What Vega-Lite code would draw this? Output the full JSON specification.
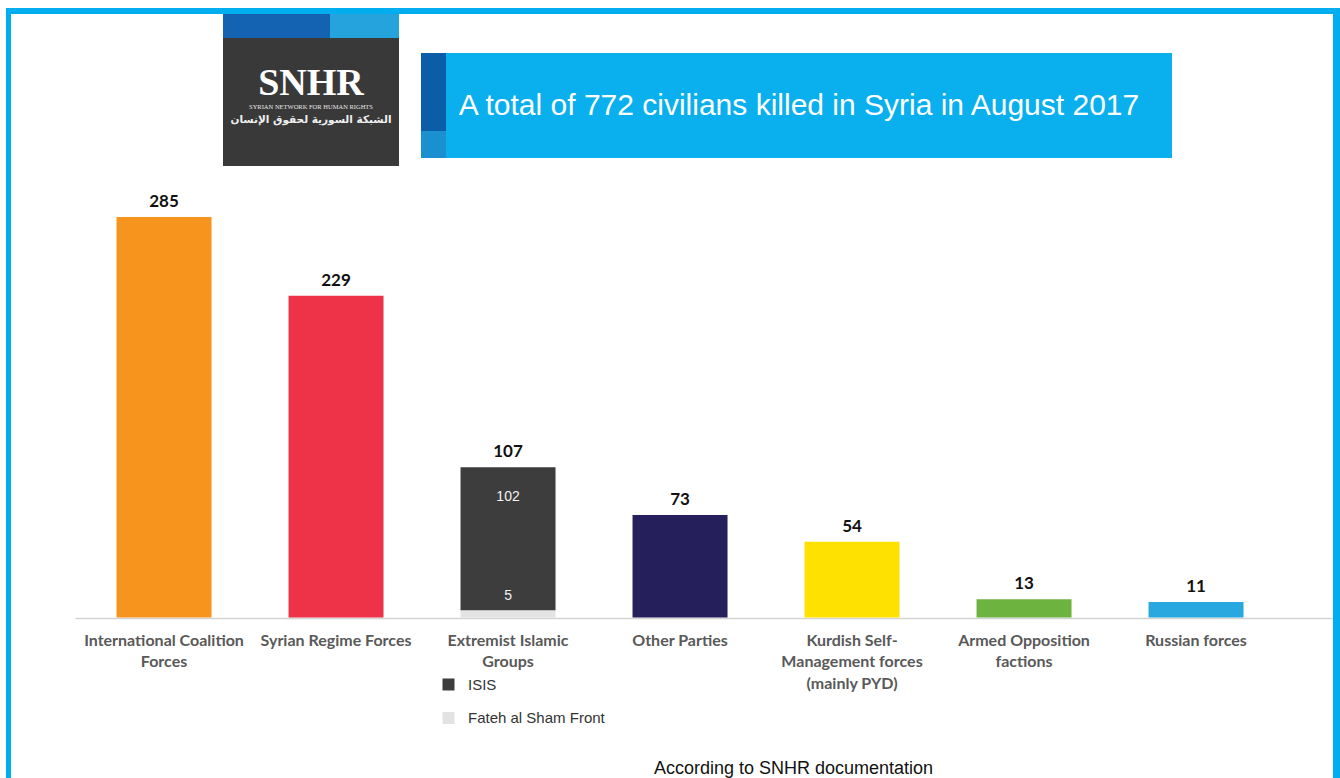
{
  "$schema": "https://vega.github.io/schema/vega-lite/v6.json",
  "background": "white",
  "padding": {"left": 6, "top": 8, "right": 0, "bottom": 0},
  "config": {"view": {"stroke": null}, "concat": {"spacing": 0}},
  "datasets": {
    "killed": [
      {"category": "International Coalition Forces", "segment": "International Coalition Forces", "killed": 285},
      {"category": "Syrian Regime Forces", "segment": "Syrian Regime Forces", "killed": 229},
      {"category": "Extremist Islamic Groups", "segment": "ISIS", "killed": 102},
      {"category": "Extremist Islamic Groups", "segment": "Fateh al Sham Front", "killed": 5},
      {"category": "Other Parties", "segment": "Other Parties", "killed": 73},
      {"category": "Kurdish Self-Management forces (mainly PYD)", "segment": "Kurdish Self-Management forces (mainly PYD)", "killed": 54},
      {"category": "Armed Opposition factions", "segment": "Armed Opposition factions", "killed": 13},
      {"category": "Russian forces", "segment": "Russian forces", "killed": 11}
    ]
  },
  "spacing": 0,
  "vconcat": [
    {"width": 1334, "height": 6, "data": {"values": []}, "mark": "rect", "view": {"fill": "#00AEEF", "stroke": null}},
    {
      "spacing": 0,
      "hconcat": [
        {"width": 5, "height": 764, "data": {"values": []}, "mark": "rect", "view": {"fill": "#00AEEF", "stroke": null}},
        {
          "spacing": 0,
          "vconcat": [
            {
              "spacing": 0,
              "hconcat": [
                {"width": 212, "height": 152, "data": {"values": []}, "mark": "rect"},
                {
                  "spacing": 0,
                  "vconcat": [
                    {
                      "spacing": 0,
                      "hconcat": [
                        {"width": 107, "height": 24, "data": {"values": []}, "mark": "rect", "view": {"fill": "#1463B2", "stroke": null}},
                        {"width": 69, "height": 24, "data": {"values": []}, "mark": "rect", "view": {"fill": "#25A3DD", "stroke": null}}
                      ]
                    },
                    {
                      "width": 176, "height": 128,
                      "view": {"fill": "#3A3939", "stroke": null},
                      "data": {"values": [{"name": "SNHR", "en": "SYRIAN NETWORK FOR HUMAN RIGHTS", "ar": "الشبكة السورية لحقوق الإنسان"}]},
                      "layer": [
                        {"mark": {"type": "text", "font": "Liberation Serif", "fontWeight": "bold", "fontSize": 38, "color": "#ffffff", "baseline": "alphabetic", "dy": -7}, "encoding": {"text": {"field": "name"}}},
                        {"mark": {"type": "text", "font": "Liberation Sans Narrow", "fontSize": 6.5, "color": "#e8e8e8", "baseline": "middle", "dy": 5}, "encoding": {"text": {"field": "en"}}},
                        {"mark": {"type": "text", "font": "DejaVu Sans", "fontWeight": "bold", "fontSize": 10.5, "color": "#f0f0f0", "baseline": "middle", "dy": 18}, "encoding": {"text": {"field": "ar"}}}
                      ]
                    }
                  ]
                },
                {"width": 22, "height": 152, "data": {"values": []}, "mark": "rect"},
                {
                  "spacing": 0,
                  "vconcat": [
                    {"width": 751, "height": 39, "data": {"values": []}, "mark": "rect"},
                    {
                      "spacing": 0,
                      "hconcat": [
                        {
                          "spacing": 0,
                          "vconcat": [
                            {"width": 25, "height": 78, "data": {"values": []}, "mark": "rect", "view": {"fill": "#0B5DA8", "stroke": null}},
                            {"width": 25, "height": 27, "data": {"values": []}, "mark": "rect", "view": {"fill": "#1A90D0", "stroke": null}}
                          ]
                        },
                        {
                          "width": 726, "height": 105,
                          "view": {"fill": "#0AAFEE", "stroke": null},
                          "data": {"values": [{"title": "A total of 772 civilians killed in Syria in August 2017"}]},
                          "mark": {"type": "text", "font": "Liberation Sans", "fontSize": 30, "color": "#ffffff", "baseline": "middle", "dx": -10},
                          "encoding": {"text": {"field": "title"}}
                        }
                      ]
                    },
                    {"width": 751, "height": 8, "data": {"values": []}, "mark": "rect"}
                  ]
                },
                {"width": 161, "height": 152, "data": {"values": []}, "mark": "rect"}
              ]
            },
            {
              "spacing": 0,
              "hconcat": [
                {"width": 64, "height": 612, "data": {"values": []}, "mark": "rect"},
                {
                  "width": 1258, "height": 612,
                  "data": {"name": "killed"},
                  "encoding": {
                    "x": {
                      "field": "category", "type": "nominal",
                      "sort": ["International Coalition Forces", "Syrian Regime Forces", "Extremist Islamic Groups", "Other Parties", "Kurdish Self-Management forces (mainly PYD)", "Armed Opposition factions", "Russian forces"],
                      "scale": {"paddingInner": 0.4477, "paddingOuter": 0.3808, "align": 0.317},
                      "axis": {
                        "title": "According to SNHR documentation",
                        "offset": -160,
                        "domainColor": "#d4d4d4", "domainWidth": 1.3,
                        "ticks": false, "grid": false,
                        "labelAngle": 0, "labelFont": "Lato", "labelFontWeight": "bold", "labelFontSize": 16,
                        "labelColor": "#595959", "labelPadding": 14, "labelLineHeight": 21.5, "labelBaseline": "top",
                        "labelLimit": 400, "labelOverlap": false,
                        "labelExpr": "datum.value == 'International Coalition Forces' ? ['International Coalition', 'Forces'] : datum.value == 'Extremist Islamic Groups' ? ['Extremist Islamic', 'Groups'] : datum.value == 'Kurdish Self-Management forces (mainly PYD)' ? ['Kurdish Self-', 'Management forces', '(mainly PYD)'] : datum.value == 'Armed Opposition factions' ? ['Armed Opposition', 'factions'] : datum.value",
                        "titleFont": "Liberation Sans", "titleFontSize": 18, "titleFontWeight": "normal", "titleColor": "#111111",
                        "titleX": 718, "titleY": 155, "titleBaseline": "alphabetic", "titleAlign": "center"
                      }
                    }
                  },
                  "layer": [
                    {
                      "mark": {"type": "bar"},
                      "encoding": {
                        "y": {"field": "killed", "type": "quantitative", "stack": "zero", "scale": {"domain": [-114.23, 321.35], "nice": false, "zero": false}, "axis": null},
                        "color": {
                          "field": "segment", "type": "nominal",
                          "scale": {
                            "domain": ["International Coalition Forces", "Syrian Regime Forces", "ISIS", "Fateh al Sham Front", "Other Parties", "Kurdish Self-Management forces (mainly PYD)", "Armed Opposition factions", "Russian forces"],
                            "range": ["#F7941E", "#EE3349", "#3D3D3D", "#E3E3E3", "#25205B", "#FFE100", "#6CB33F", "#29A8E0"]
                          },
                          "legend": {
                            "values": ["ISIS", "Fateh al Sham Front"], "title": null,
                            "orient": "none", "legendX": 435, "legendY": 669,
                            "symbolType": "square", "symbolSize": 144, "symbolStrokeWidth": 0, "symbolOpacity": 1,
                            "labelFont": "Liberation Sans", "labelFontSize": 15, "labelColor": "#333333",
                            "rowPadding": 17.5, "labelOffset": 12, "padding": 0
                          }
                        },
                        "order": {"field": "segment", "sort": "ascending"}
                      }
                    },
                    {
                      "transform": [{"aggregate": [{"op": "sum", "field": "killed", "as": "total"}], "groupby": ["category"]}],
                      "mark": {"type": "text", "font": "Lato", "fontWeight": "bold", "fontSize": 17, "color": "#111111", "baseline": "alphabetic", "dy": -10},
                      "encoding": {
                        "y": {"field": "total", "type": "quantitative", "axis": null},
                        "text": {"field": "total", "type": "quantitative"}
                      }
                    },
                    {
                      "transform": [
                        {"joinaggregate": [{"op": "sum", "field": "killed", "as": "total"}], "groupby": ["category"]},
                        {"filter": "datum.segment == 'ISIS'"}
                      ],
                      "mark": {"type": "text", "font": "Liberation Sans", "fontSize": 14, "color": "#f2f2f2", "baseline": "middle", "dy": 30},
                      "encoding": {
                        "y": {"field": "total", "type": "quantitative", "axis": null},
                        "text": {"field": "killed", "type": "quantitative"}
                      }
                    },
                    {
                      "transform": [{"filter": "datum.segment == 'Fateh al Sham Front'"}],
                      "mark": {"type": "text", "font": "Liberation Sans", "fontSize": 14, "color": "#f2f2f2", "baseline": "middle", "dy": -14},
                      "encoding": {
                        "y": {"field": "killed", "type": "quantitative", "axis": null},
                        "text": {"field": "killed", "type": "quantitative"}
                      }
                    }
                  ]
                }
              ]
            }
          ]
        },
        {"width": 7, "height": 764, "data": {"values": []}, "mark": "rect", "view": {"fill": "#00AEEF", "stroke": null}}
      ]
    }
  ]
}
